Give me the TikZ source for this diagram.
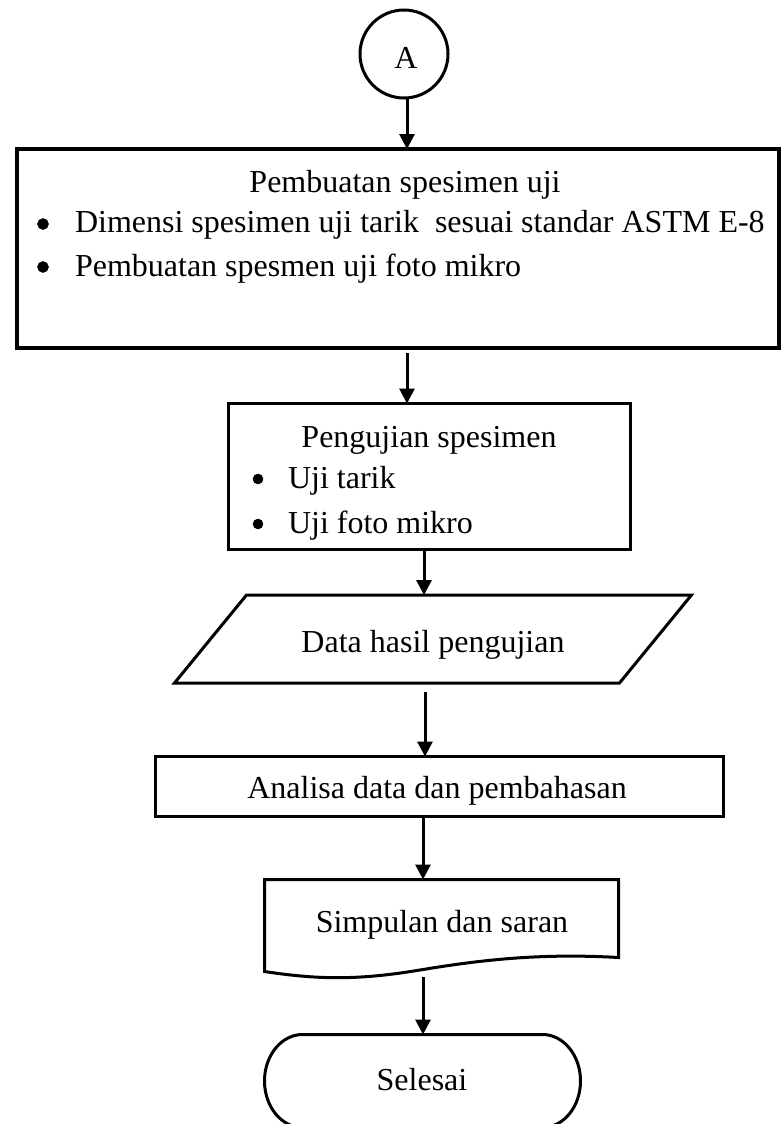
\documentclass[tikz,border=0pt]{standalone}
\usepackage{fontspec}
\setmainfont{Liberation Serif}
\usetikzlibrary{arrows.meta}
\begin{document}
\begin{tikzpicture}[x=1pt,y=-1pt,
  every node/.style={font=\fontsize{32}{38}\selectfont, inner sep=0pt, outer sep=0pt},
  frame/.style={draw, line width=3pt, line join=miter},
  ghost/.style={rectangle},
  label/.style={anchor=mid},
  item/.style={anchor=mid west},
  dot/.style={circle, draw=black, fill=black, line width=0.5pt, minimum size=11pt},
  flow/.style={line width=3pt, -{Triangle[length=15pt,width=15pt]}}]
\useasboundingbox (0,0) rectangle (782,1124);

% connector A
\node[circle, frame, minimum size=88pt] (A) at (404,54) {};
\node[label] (tA) at (406,66) {A};

% box 1
\node[rectangle, frame, line width=3.5pt, minimum width=762pt, minimum height=199pt] (b1) at (398,248.5) {};
\node[label] (t1) at (405,190) {Pembuatan spesimen uji};
\node[dot] (d1a) at (43,224) {};
\node[item] (t1a) at (75,230) {Dimensi spesimen uji tarik\ \ sesuai standar ASTM E-8};
\node[dot] (d1b) at (43,267) {};
\node[item] (t1b) at (75,274) {Pembuatan spesmen uji foto mikro};

% box 2
\node[rectangle, frame, minimum width=402pt, minimum height=146pt] (b2) at (429.5,476.5) {};
\node[label] (t2) at (429,445) {Pengujian spesimen};
\node[dot, minimum size=10pt] (d2a) at (258,479) {};
\node[item] (t2a) at (288,486) {Uji tarik};
\node[dot, minimum size=10pt] (d2b) at (258,524) {};
\node[item] (t2b) at (288,531) {Uji foto mikro};

% parallelogram
\node[ghost, minimum width=517pt, minimum height=88pt] (para) at (433,639) {};
\draw[frame] ([xshift=72pt]para.north west) -- (para.north east)
  -- ([xshift=-72pt]para.south east) -- (para.south west) -- cycle;
\node[label] (t3) at (433,650) {Data hasil pengujian};

% analisa box
\node[rectangle, frame, minimum width=568pt, minimum height=60pt] (b3) at (439.5,786.5) {};
\node[label] (t4) at (437,796) {Analisa data dan pembahasan};

% document
\node[ghost, minimum width=354pt, minimum height=92pt] (doc) at (441.5,925.5) {};
\draw[frame] (doc.south west) -- (doc.north west) -- (doc.north east)
  -- ([yshift=14pt]doc.south east)
  .. controls (540,953) and (480,960) .. (420,970)
  .. controls (360,980) and (320,980) .. (doc.south west) -- cycle;
\node[label] (t5) at (442,930) {Simpulan dan saran};

% terminal
\node[ghost, minimum width=316pt, minimum height=93pt] (fin) at (422.5,1081) {};
\draw[frame] ([xshift=38pt]fin.north west) -- ([xshift=-38pt]fin.north east)
  arc[start angle=90, end angle=-90, x radius=38pt, y radius=46.5pt]
  -- ([xshift=38pt]fin.south west)
  arc[start angle=270, end angle=90, x radius=38pt, y radius=46.5pt] -- cycle;
\node[label] (t6) at (422,1088) {Selesai};

% connector coordinates
\coordinate (c1) at (407,99);
\coordinate (c2) at (407,353);
\coordinate (c3) at (424,551);
\coordinate (c4) at (425,692);
\coordinate (c5) at (423,818);
\coordinate (c6) at (423,977);

\draw[flow] (c1) -- (c1 |- b1.north);
\draw[flow] (c2) -- (c2 |- b2.north);
\draw[flow] (c3) -- (c3 |- para.north);
\draw[flow] (c4) -- (c4 |- b3.north);
\draw[flow] (c5) -- (c5 |- doc.north);
\draw[flow] (c6) -- (c6 |- fin.north);
\end{tikzpicture}
\end{document}
